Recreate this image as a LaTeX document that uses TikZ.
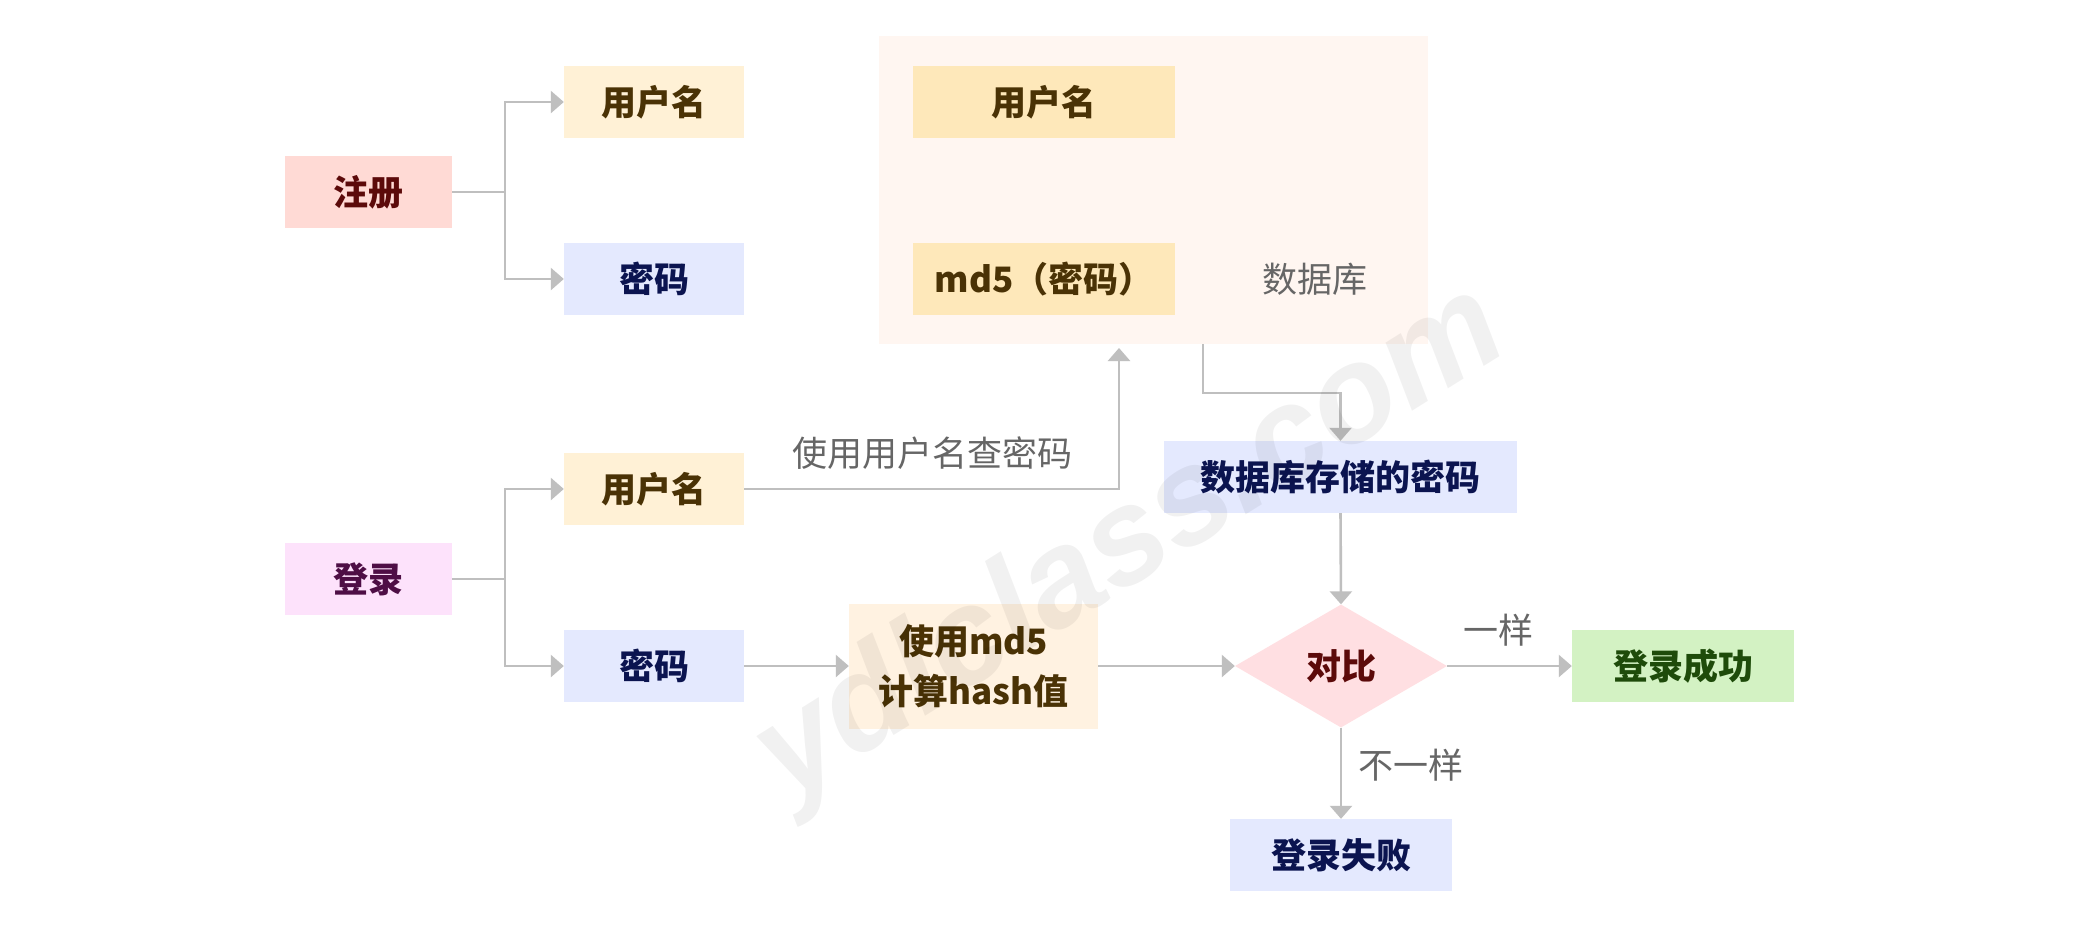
\documentclass[tikz,border=0pt]{standalone}
\usepackage{fontspec}
\setmainfont{Noto Sans CJK SC}
\newfontfamily\wmfont{Liberation Sans}
\usetikzlibrary{arrows.meta,shapes.geometric}
\definecolor{linegray}{HTML}{BFBFBF}
\definecolor{labelgray}{HTML}{666666}
\definecolor{regfill}{HTML}{FFDAD5}
\definecolor{regtext}{HTML}{5C0A0A}
\definecolor{userfill}{HTML}{FFF1D6}
\definecolor{browntext}{HTML}{4A3205}
\definecolor{pwfill}{HTML}{E4E9FE}
\definecolor{navytext}{HTML}{0B1450}
\definecolor{loginfill}{HTML}{FDE2FB}
\definecolor{logintext}{HTML}{4E0E45}
\definecolor{dbfill}{HTML}{FFF6F1}
\definecolor{innerfill}{HTML}{FEE8BA}
\definecolor{hashfill}{HTML}{FFF2E1}
\definecolor{cmpfill}{HTML}{FFDFE2}
\definecolor{okfill}{HTML}{D3F2C3}
\definecolor{oktext}{HTML}{1E4B0A}
\begin{document}
\begin{tikzpicture}[x=1pt,y=-1pt,
  box/.style={rectangle, inner sep=0pt, minimum height=72pt, font=\fontsize{35}{40}\selectfont\bfseries},
  lbl/.style={inner sep=0pt, text=labelgray, font=\fontsize{35}{40}\selectfont},
  conn/.style={draw=linegray, line width=2.6pt},
  arr/.style={conn, -{Triangle[length=13pt,width=22pt]}}]
\useasboundingbox (0,0) rectangle (2076,927);
\fill[white] (0,0) rectangle (2076,927);
% register
\node[box, fill=regfill, text=regtext, minimum width=167pt] (reg) at (368.5,192) {注册};
\node[box, fill=userfill, text=browntext, minimum width=180pt] (ru) at (654,102) {用户名};
\node[box, fill=pwfill, text=navytext, minimum width=180pt] (rp) at (654,279) {密码};
% database
\node[rectangle, fill=dbfill, minimum width=549pt, minimum height=308pt, inner sep=0pt] (db) at (1153.5,190) {};
\node[box, fill=innerfill, text=browntext, minimum width=262pt] (dbu) at (1044,102) {用户名};
\node[box, fill=innerfill, text=browntext, minimum width=262pt] (dbp) at (1044,279) {md5（密码）};
\node[lbl] (dblabel) at (1315,279) {数据库};
% login
\node[box, fill=userfill, text=browntext, minimum width=180pt] (lu) at (654,489) {用户名};
\node[box, fill=loginfill, text=logintext, minimum width=167pt] (login) at (368.5,579) {登录};
\node[box, fill=pwfill, text=navytext, minimum width=180pt] (lp) at (654,666) {密码};
\node[box, fill=hashfill, text=browntext, minimum width=249pt, minimum height=125pt, align=center, font=\fontsize{35}{50}\selectfont\bfseries] (hash) at (973.5,666) {使用md5\\计算hash值};
\node[box, fill=pwfill, text=navytext, minimum width=353pt] (stored) at (1340.5,477) {数据库存储的密码};
\node[diamond, aspect=1.72, fill=cmpfill, text=regtext, minimum width=212pt, minimum height=123pt, inner sep=0pt, font=\fontsize{35}{40}\selectfont\bfseries] (cmp) at (1341,666) {对比};
\node[box, fill=okfill, text=oktext, minimum width=222pt] (ok) at (1683,666) {登录成功};
\node[box, fill=pwfill, text=navytext, minimum width=222pt] (fail) at (1341,855) {登录失败};
% labels
\node[lbl] (lq) at (932,453) {使用用户名查密码};
\node[lbl] (lsame) at (1498,630) {一样};
\node[lbl] (ldiff) at (1411,765) {不一样};
% connectors
\coordinate (rj) at (505,192);
\draw[arr] (reg.east) -- (rj) |- (ru.west);
\draw[arr] (reg.east) -- (rj) |- (rp.west);
\coordinate (lj) at (505,579);
\draw[arr] (login.east) -- (lj) |- (lu.west);
\draw[arr] (login.east) -- (lj) |- (lp.west);
\coordinate (qtop) at (1119,348);
\draw[arr] (lu.east) -| (qtop);
\coordinate (dbout) at (1203,344);
\draw[arr] (dbout) -- ++(0,49) -| (stored.north);
\draw[arr] (stored.south) -- (cmp.north);
\draw[arr] (lp.east) -- (hash.west);
\draw[arr] (hash.east) -- (cmp.west);
\draw[arr] (cmp.east) -- (ok.west);
\draw[arr] (cmp.south) -- (fail.north);
% watermark
\node[rotate=32, text=black, text opacity=0.055, inner sep=0pt, font=\wmfont\bfseries\itshape\fontsize{136}{136}\selectfont] (wm) at (1132,545) {ydlclass.com};
\end{tikzpicture}
\end{document}
